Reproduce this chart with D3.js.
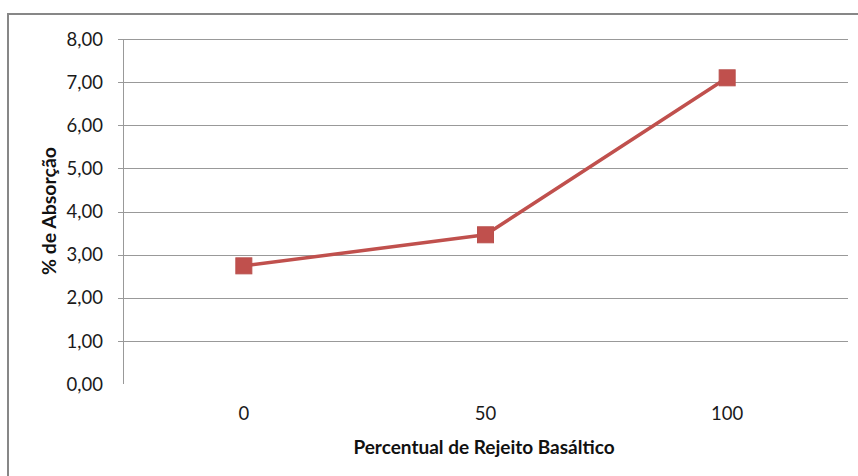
<!DOCTYPE html>
<html><head><meta charset="utf-8">
<script src="https://cdn.jsdelivr.net/npm/d3@7"></script>
<style>body{margin:0;background:#fff;} svg{display:block;font-family:Lato, "Open Sans", sans-serif;}</style>
</head><body><svg id="c" width="858" height="476"></svg>
<script>
const categories = ["0", "50", "100"];
const values = [2.74, 3.46, 7.10];
const yTicks = [0, 1, 2, 3, 4, 5, 6, 7, 8];
const xTitle = "Percentual de Rejeito Basáltico";
const yTitle = "% de Absorção";

(function () {
const svg = d3.select("#c");
// outer frame
svg.append("rect").attr("x", 8).attr("y", 14).attr("width", 860).attr("height", 480)
  .attr("fill", "none").attr("stroke", "#878787").attr("stroke-width", 2);

const pL = 123, pR = 848, pT = 39, pB = 384;
const x = d3.scaleBand().domain(categories).range([pL, pR]);
const y = d3.scaleLinear().domain([0, 8]).range([pB, pT]);
const fmt = v => d3.format(".2f")(v).replace(".", ",");

// gridlines
svg.append("g").selectAll("line").data(yTicks.filter(t => t > 0)).join("line")
  .attr("x1", pL - 5).attr("x2", pR)
  .attr("y1", d => Math.round(y(d)) + 0.5).attr("y2", d => Math.round(y(d)) + 0.5)
  .attr("stroke", "#999").attr("stroke-width", 1);

// y axis line
svg.append("line").attr("x1", pL + 0.5).attr("x2", pL + 0.5).attr("y1", pT).attr("y2", pB)
  .attr("stroke", "#999").attr("stroke-width", 1);

// y tick labels
svg.append("g").selectAll("text").data(yTicks).join("text")
  .attr("x", 103).attr("y", d => y(d)).attr("dy", "0.36em")
  .attr("text-anchor", "end").attr("font-size", 18.5).attr("fill", "#1a1a1a")
  .text(fmt);

// x tick labels
svg.append("g").selectAll("text").data(categories).join("text")
  .attr("x", d => x(d) + x.bandwidth() / 2).attr("y", 413.5).attr("dy", "0.36em")
  .attr("text-anchor", "middle").attr("font-size", 18.5).attr("fill", "#1a1a1a")
  .text(d => d);

// titles
svg.append("text").attr("x", 484).attr("y", 447).attr("dy", "0.36em")
  .attr("text-anchor", "middle").attr("font-size", 19).attr("font-weight", "bold").attr("fill", "#111")
  .text(xTitle);
svg.append("text").attr("transform", "translate(49,211) rotate(-90)").attr("dy", "0.36em")
  .attr("text-anchor", "middle").attr("font-size", 19.5).attr("font-weight", "bold").attr("fill", "#111")
  .text(yTitle);

const pts = categories.map((c, i) => [x(c) + x.bandwidth() / 2, y(values[i])]);
svg.append("path").attr("d", d3.line()(pts)).attr("fill", "none")
  .attr("stroke", "#C0504D").attr("stroke-width", 3.5).attr("stroke-linejoin", "round");

svg.append("g").selectAll("rect").data(pts).join("rect")
  .attr("x", d => d[0] - 8).attr("y", d => d[1] - 8).attr("width", 16).attr("height", 16)
  .attr("fill", "#C0504D").attr("stroke", "#B9504D").attr("stroke-width", 1);
})();
</script></body></html>
